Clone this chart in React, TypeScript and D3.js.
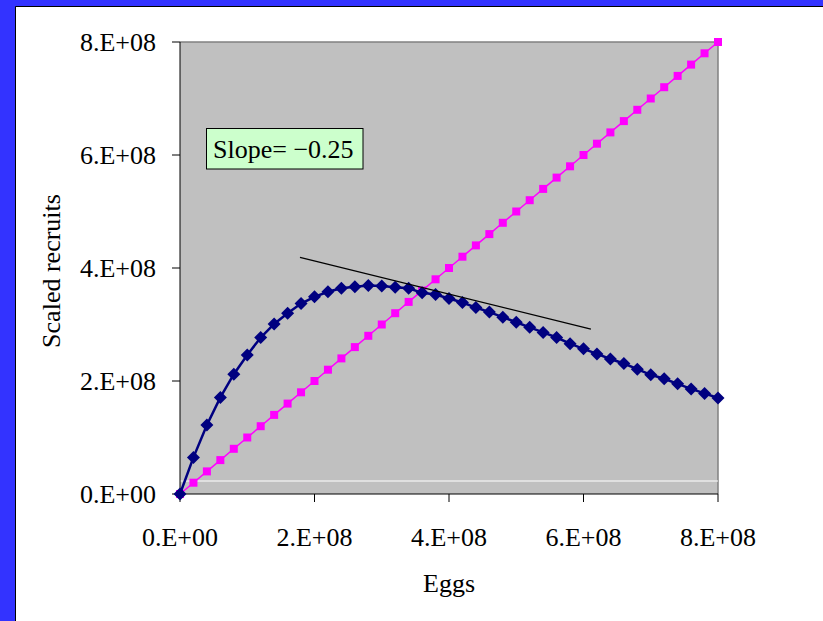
import React from "react";
import * as d3 from "d3";

const eggs: number[] = Array.from({ length: 41 }, (_, i) => i * 2e7);
const recruits: number[] = [
  0, 6.48e7, 1.22e8, 1.71e8, 2.12e8, 2.46e8, 2.77e8, 3.01e8, 3.2e8, 3.37e8,
  3.49e8, 3.58e8, 3.64e8, 3.67e8, 3.69e8, 3.68e8, 3.66e8, 3.64e8, 3.56e8, 3.53e8,
  3.46e8, 3.39e8, 3.3e8, 3.22e8, 3.13e8, 3.04e8, 2.95e8, 2.86e8, 2.77e8, 2.66e8,
  2.57e8, 2.48e8, 2.39e8, 2.31e8, 2.21e8, 2.11e8, 2.04e8, 1.95e8, 1.86e8, 1.78e8,
  1.7e8,
];
const replacement: number[] = eggs.map((e) => e);
const tangentX: number[] = [1.784e8, 6.11e8];
const tangentY: number[] = [4.19e8, 2.92e8];
const referenceLine = 2.3e7;
const tickValues: number[] = [0, 2e8, 4e8, 6e8, 8e8];
const tickLabels: string[] = ["0.E+00", "2.E+08", "4.E+08", "6.E+08", "8.E+08"];
const slopeText = "Slope= \u22120.25";

const W = 823;
const H = 621;
const left = 180, right = 718, top = 42, bottom = 494;
const font = "'Liberation Serif', 'Times New Roman', serif";

export default function App() {
  const x = d3.scaleLinear().domain([0, 8e8]).range([left, right]);
  const y = d3.scaleLinear().domain([0, 8e8]).range([bottom, top]);
  const line = d3
    .line<[number, number]>()
    .x((d) => x(d[0]))
    .y((d) => y(d[1]));
  const blueData = eggs.map((e, i) => [e, recruits[i]] as [number, number]);
  const pinkData = eggs.map((e, i) => [e, replacement[i]] as [number, number]);
  const tanData = tangentX.map((t, i) => [t, tangentY[i]] as [number, number]);
  const ds = 6.5;
  const sq = 4;
  return (
    <svg
      width={W}
      height={H}
      style={{ position: "absolute", left: 0, top: 0, display: "block" }}
    >
      <rect x={0} y={0} width={W} height={H} fill="#ffffff" />
      <rect x={0} y={0} width={W} height={7} fill="#3333ff" />
      <rect x={0} y={0} width={16} height={H} fill="#3333ff" />
      <line x1={15.5} x2={15.5} y1={6.5} y2={H} stroke="#000" strokeWidth={1} />
      <line x1={15.5} x2={W} y1={6.5} y2={6.5} stroke="#000" strokeWidth={1} />

      <rect x={left} y={top} width={right - left} height={bottom - top} fill="#c0c0c0" />
      <line x1={left} x2={right} y1={top} y2={top} stroke="#808080" strokeWidth={1.5} />
      <line x1={right} x2={right} y1={top} y2={bottom} stroke="#808080" strokeWidth={1.5} />
      <line
        x1={left}
        x2={right}
        y1={y(referenceLine)}
        y2={y(referenceLine)}
        stroke="#ffffff"
        strokeWidth={1.2}
      />
      <line x1={left} x2={left} y1={top} y2={bottom} stroke="#000" strokeWidth={1} />
      <line x1={left} x2={right} y1={bottom} y2={bottom} stroke="#000" strokeWidth={1} />

      {tickValues.map((t, i) => (
        <g key={"y" + i}>
          <line x1={left - 8} x2={left} y1={y(t)} y2={y(t)} stroke="#000" strokeWidth={1} />
          <text
            x={156}
            y={y(t) + 9}
            textAnchor="end"
            fontFamily={font}
            fontSize={26}
            fill="#000"
          >
            {tickLabels[i]}
          </text>
        </g>
      ))}
      {tickValues.map((t, i) => (
        <g key={"x" + i}>
          <line x1={x(t)} x2={x(t)} y1={bottom} y2={bottom + 8} stroke="#000" strokeWidth={1} />
          <text
            x={x(t)}
            y={546}
            textAnchor="middle"
            fontFamily={font}
            fontSize={26}
            fill="#000"
          >
            {tickLabels[i]}
          </text>
        </g>
      ))}

      <text x={449} y={592} textAnchor="middle" fontFamily={font} fontSize={26} fill="#000">
        Eggs
      </text>
      <text
        transform={`translate(60,271) rotate(-90)`}
        textAnchor="middle"
        fontFamily={font}
        fontSize={26}
        fill="#000"
      >
        Scaled recruits
      </text>

      <path d={line(pinkData) || ""} fill="none" stroke="#ff00ff" strokeWidth={1.5} />
      {pinkData.map((d, i) => (
        <rect
          key={"p" + i}
          x={x(d[0]) - sq}
          y={y(d[1]) - sq}
          width={sq * 2}
          height={sq * 2}
          fill="#ff00ff"
        />
      ))}
      <path d={line(blueData) || ""} fill="none" stroke="#000080" strokeWidth={2.5} />
      {blueData.map((d, i) => {
        const cx = x(d[0]);
        const cy = y(d[1]);
        return (
          <path
            key={"b" + i}
            d={`M${cx},${cy - ds}L${cx + ds},${cy}L${cx},${cy + ds}L${cx - ds},${cy}Z`}
            fill="#000080"
          />
        );
      })}
      <path d={line(tanData) || ""} fill="none" stroke="#000" strokeWidth={1.3} />

      <rect
        x={206.5}
        y={128.5}
        width={156.5}
        height={40.5}
        fill="#ccffcc"
        stroke="#000"
        strokeWidth={1}
      />
      <text x={213} y={158} fontFamily={font} fontSize={26} fill="#000">
        {slopeText}
      </text>
    </svg>
  );
}
